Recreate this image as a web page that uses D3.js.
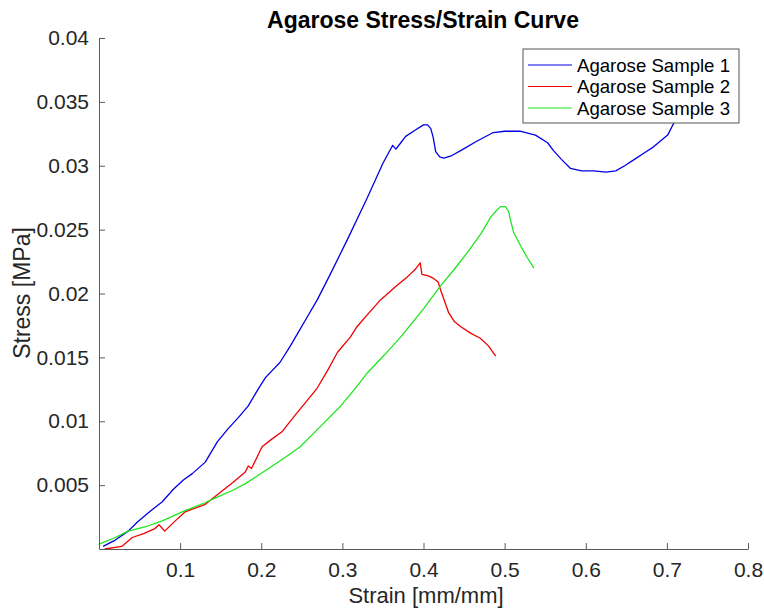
<!DOCTYPE html>
<html>
<head>
<meta charset="utf-8">
<script src="https://cdn.jsdelivr.net/npm/d3@7"></script>
<style>
  body { margin: 0; background: #fff; }
  svg { font-family: Helvetica, Arial, "Liberation Sans", sans-serif; }
  .axis path, .axis line { stroke: #5a5a5a; }
  .axis text { fill: #262626; font-size: 21px; }
</style>
</head>
<body>
<script>
var svgWidth = 764;
var svgHeight = 609;

var chartMargin = { top: 38, right: 16, bottom: 60, left: 99 };
var chartWidth = 748 - chartMargin.left;
var chartHeight = 549 - chartMargin.top;

// values
var seriesNames = ["Agarose Sample 1", "Agarose Sample 2", "Agarose Sample 3"];
var seriesColors = ["#0000e6", "#f00000", "#1ee61e"];

var strain1 = [0.005, 0.02, 0.036, 0.047, 0.062, 0.078, 0.092, 0.104, 0.115, 0.131, 0.146, 0.159, 0.172, 0.184, 0.196, 0.205, 0.214, 0.223, 0.235, 0.246, 0.257, 0.269, 0.285, 0.306, 0.33, 0.35, 0.362, 0.366, 0.372, 0.378, 0.39, 0.4, 0.405, 0.409, 0.412, 0.415, 0.42, 0.425, 0.435, 0.449, 0.465, 0.486, 0.5, 0.52, 0.538, 0.553, 0.56, 0.57, 0.581, 0.595, 0.61, 0.625, 0.637, 0.648, 0.66, 0.672, 0.684, 0.695, 0.701, 0.709, 0.72];
var stress1 = [0.0002, 0.0007, 0.0014, 0.0021, 0.0029, 0.0037, 0.0047, 0.0054, 0.0059, 0.0068, 0.0084, 0.0094, 0.0103, 0.0112, 0.0125, 0.0134, 0.014, 0.0146, 0.0158, 0.017, 0.0182, 0.0195, 0.0215, 0.0242, 0.0274, 0.0302, 0.0316, 0.0313, 0.0318, 0.0323, 0.0328, 0.0332, 0.0332, 0.0329, 0.0322, 0.0311, 0.0307, 0.0306, 0.0308, 0.0313, 0.0319, 0.0326, 0.0327, 0.0327, 0.0324, 0.0318, 0.0312, 0.0305, 0.0298, 0.0296, 0.0296, 0.0295, 0.0296, 0.03, 0.0305, 0.031, 0.0315, 0.0321, 0.0324, 0.0334, 0.0352];

var strain2 = [0.007, 0.028, 0.041, 0.055, 0.069, 0.074, 0.081, 0.094, 0.106, 0.131, 0.147, 0.165, 0.18, 0.184, 0.188, 0.201, 0.213, 0.226, 0.242, 0.255, 0.269, 0.282, 0.294, 0.31, 0.318, 0.333, 0.347, 0.365, 0.38, 0.39, 0.396, 0.398, 0.405, 0.412, 0.418, 0.421, 0.426, 0.431, 0.438, 0.446, 0.458, 0.47, 0.48, 0.489];
var stress2 = [0.0, 0.0002, 0.0009, 0.0012, 0.0016, 0.0019, 0.0014, 0.0022, 0.0029, 0.0035, 0.0043, 0.0052, 0.006, 0.0065, 0.0063, 0.008, 0.0086, 0.0092, 0.0105, 0.0115, 0.0126, 0.014, 0.0154, 0.0166, 0.0174, 0.0185, 0.0195, 0.0205, 0.0213, 0.0219, 0.0224, 0.0215, 0.0214, 0.0212, 0.0209, 0.0203, 0.0194, 0.0185, 0.0178, 0.0174, 0.0169, 0.0165, 0.0159, 0.0151];

var strain3 = [0.0, 0.001, 0.02, 0.036, 0.06, 0.078, 0.106, 0.13, 0.147, 0.165, 0.18, 0.209, 0.228, 0.248, 0.27, 0.298, 0.315, 0.331, 0.352, 0.372, 0.4, 0.421, 0.438, 0.454, 0.47, 0.483, 0.49, 0.495, 0.501, 0.505, 0.507, 0.511, 0.52, 0.528, 0.536];
var stress3 = [0.0003, 0.0004, 0.0009, 0.0014, 0.0018, 0.0022, 0.003, 0.0036, 0.0041, 0.0046, 0.0051, 0.0063, 0.0071, 0.008, 0.0094, 0.0112, 0.0125, 0.0138, 0.0152, 0.0166, 0.0188, 0.0206, 0.0219, 0.0232, 0.0246, 0.026, 0.0265, 0.0268, 0.0268, 0.0264, 0.0258, 0.0248, 0.0237, 0.0228, 0.022];

var xTicks = [0.1, 0.2, 0.3, 0.4, 0.5, 0.6, 0.7, 0.8];
var yTicks = [0.005, 0.01, 0.015, 0.02, 0.025, 0.03, 0.035, 0.04];

var allStrain = [strain1, strain2, strain3];
var allStress = [stress1, stress2, stress3];

var svg = d3.select("body")
            .append("svg")
            .attr("width", svgWidth)
            .attr("height", svgHeight);

var chartGroup = svg.append("g")
                    .attr("transform", `translate(${chartMargin.left}, ${chartMargin.top})`);

var xScale = d3.scaleLinear().domain([0, 0.8]).range([0, chartWidth]);
var yScale = d3.scaleLinear().domain([0, 0.04]).range([chartHeight, 0]);

var bottomAxis = d3.axisBottom(xScale)
                   .tickValues(xTicks)
                   .tickSizeInner(-6)
                   .tickSizeOuter(0)
                   .tickPadding(13)
                   .tickFormat(d3.format("~g"));
var leftAxis = d3.axisLeft(yScale)
                 .tickValues(yTicks)
                 .tickSizeInner(-6)
                 .tickSizeOuter(0)
                 .tickPadding(10)
                 .tickFormat(d3.format("~g"));

var lineGen = d3.line()
                .x(d => xScale(d[0]))
                .y(d => yScale(d[1]));

allStrain.forEach((xs, i) => {
    var pts = xs.map((x, j) => [x, allStress[i][j]]);
    chartGroup.append("path")
              .datum(pts)
              .attr("fill", "none")
              .attr("stroke", seriesColors[i])
              .attr("stroke-width", 1.3)
              .attr("stroke-linejoin", "round")
              .attr("d", lineGen);
});

chartGroup.append("g")
          .attr("class", "axis")
          .attr("transform", `translate(0, ${chartHeight})`)
          .call(bottomAxis);

chartGroup.append("g")
          .attr("class", "axis")
          .call(leftAxis);

// title and labels
svg.append("text")
   .attr("x", 423)
   .attr("y", 28)
   .attr("text-anchor", "middle")
   .style("font-size", "23px")
   .style("font-weight", "bold")
   .text("Agarose Stress/Strain Curve");

svg.append("text")
   .attr("x", 426)
   .attr("y", 603)
   .attr("text-anchor", "middle")
   .style("font-size", "22px")
   .attr("fill", "#262626")
   .text("Strain [mm/mm]");

svg.append("text")
   .attr("transform", "translate(30, 293) rotate(-90)")
   .attr("text-anchor", "middle")
   .style("font-size", "23px")
   .attr("fill", "#262626")
   .text("Stress [MPa]");

// legend
var legend = svg.append("g").attr("transform", "translate(523, 49)");
legend.append("rect")
      .attr("width", 216)
      .attr("height", 74)
      .attr("fill", "#fff")
      .attr("stroke", "#555")
      .attr("stroke-width", 1);

seriesNames.forEach((name, i) => {
    var cy = 16 + i * 21.5;
    legend.append("line")
          .attr("x1", 5).attr("x2", 49)
          .attr("y1", cy).attr("y2", cy)
          .attr("stroke", seriesColors[i])
          .attr("stroke-width", 1);
    legend.append("text")
          .attr("x", 54)
          .attr("y", cy + 6.5)
          .style("font-size", "18.6px")
          .attr("fill", "#000")
          .text(name);
});
</script>
</body>
</html>
